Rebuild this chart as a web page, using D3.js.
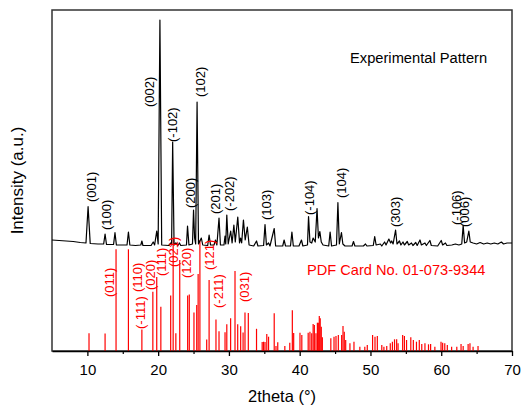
<!DOCTYPE html>
<html>
<head>
<meta charset="utf-8">
<script src="https://cdn.jsdelivr.net/npm/d3@7"></script>
<style>
  body { margin: 0; background: #fff; }
  text { font-family: "Liberation Sans", Arial, sans-serif; }
</style>
</head>
<body>
<div id="chart"></div>
<script>
// experimental XRD pattern, [2theta, intensity]
var expPattern = [
  [5.0,111],[6.0,110.5],[7.0,110],[8.0,109.5],[9.0,108.5],[9.8,108],
  [10.1,144.3],[10.4,107.5],[11.5,107],[12.3,107],[12.5,117],[12.7,106.5],
  [13.7,106.5],[13.9,118.3],[14.1,106],[15.6,106],[15.8,119],[16.0,106],
  [16.8,105.5],[17.55,106],[17.7,110],[17.85,105.5],[19.0,105.5],[19.3,109],
  [19.5,106],[19.8,120],[20.0,107],[20.25,331],[20.5,106],[21.5,105.5],
  [21.8,108],[21.9,106],[22.05,209],[22.25,106],[22.5,108],[22.8,105.5],
  [23.0,108],[23.2,105.5],[24.0,106],[24.15,125],[24.35,106],[24.85,107],
  [25.0,141],[25.15,113],[25.3,107],[25.5,249],[25.7,107],[26.1,113],
  [26.3,106],[27.0,105.5],[27.2,116],[27.4,106],[27.9,106],[28.1,111],
  [28.3,106],[28.6,133],[28.8,106],[29.3,106],[29.45,115],[29.55,107],
  [29.7,136],[29.9,107],[30.25,120],[30.45,108],[30.7,126],[30.9,109],
  [31.25,134],[31.5,108],[31.65,113],[31.8,108],[32.05,131],[32.3,111],
  [32.6,124],[32.85,106],[33.5,105],[33.9,110],[34.1,105],[34.9,105.5],
  [35.1,126.5],[35.3,106],[35.6,108],[35.8,105],[36.4,122.5],[36.6,105],
  [37.6,105],[37.8,111],[38.0,105],[38.7,105],[38.9,119],[39.1,105],
  [39.9,105],[40.25,111],[40.45,105],[41.1,106],[41.25,134.5],[41.45,109],
  [41.7,108],[41.9,113],[42.2,109],[42.45,142.5],[42.65,113],[42.85,119.5],
  [43.05,109],[43.3,106],[44.1,105],[44.3,119],[44.5,105],[45.2,106],
  [45.4,148.3],[45.6,107],[45.9,118.5],[46.1,107],[46.4,105],[47.4,105],
  [47.6,109.5],[47.8,105],[49.0,105],[49.3,107],[49.5,105],[50.4,105.5],
  [50.6,114.5],[50.8,106],[51.4,107],[51.6,105],[52.0,109],[52.2,106],
  [52.6,112],[52.85,108],[53.0,110],[53.2,107],[53.55,121],[53.75,107],
  [54.1,110],[54.3,106],[54.6,109],[54.8,106],[55.2,109.5],[55.4,106],
  [55.8,108],[56.0,105.5],[56.4,108.5],[56.6,105.5],[57.0,111],[57.2,106],
  [57.7,108],[57.9,105.5],[58.4,110.5],[58.6,105.5],[59.5,105],[60.0,110.5],
  [60.2,106],[60.6,108],[60.8,105.5],[61.5,106],[62.0,107],[62.5,106],
  [62.9,107],[63.1,125.5],[63.3,108],[63.6,109],[63.9,120],[64.1,109],
  [64.5,108],[65.0,107],[65.5,108.5],[66.0,107],[66.5,108],[67.0,107],
  [67.5,108],[68.0,107],[68.5,109],[68.8,107],[69.3,108],[70.0,108]
];

// reference card lines, [2theta, intensity]
var cardLines = [
  [10.23,17.7],[12.5,17.5],[14.05,101.7],[15.8,101.7],[17.7,21.5],
  [19.25,59.3],[19.8,74],[20.38,44.3],[21.77,55.5],[22.12,113],
  [22.5,17.7],[23.05,91],[24.17,55.5],[24.4,56.5],[25.06,38.5],
  [25.45,46],[25.65,77],[25.9,111],[26.86,11.5],[27.2,71],
  [28.17,31.5],[28.6,19.7],[29.45,18.7],[29.7,26.8],[30.24,32.7],
  [30.86,80],[31.24,26.8],[31.66,24.7],[32.0,18.5],[32.27,38.5],
  [32.74,38],[33.9,22.2],[34.7,9],[34.9,9.3],[35.1,9],[35.35,17],
  [35.6,14.3],[36.4,37.7],[36.65,5],[36.9,8.7],[37.9,5],[38.6,8.3],
  [38.96,40.7],[39.15,18],[40.04,18.3],[40.3,16],[41.2,18.3],[41.45,19.3],
  [41.7,17.7],[41.9,27],[42.07,26],[42.3,17.7],[42.5,28.3],[42.63,28.3],
  [42.77,35],[42.9,32.7],[43.05,24.3],[43.2,13.7],[44.4,12.7],[44.85,14.3],
  [45.13,15],[45.46,16],[45.93,16],[46.12,25],[46.3,19.3],[46.5,11],
  [47.1,7.7],[47.67,9.3],[48.5,4.3],[49.2,4.3],[49.55,6],[50.3,16],
  [50.64,14.3],[50.97,15],[51.6,6],[51.9,4.3],[52.3,5],[52.8,7.7],
  [53.1,9.3],[53.4,11.7],[53.7,11.7],[53.9,7.7],[54.55,16],[54.8,15],
  [55.1,11],[55.7,13.7],[56.06,11],[56.5,9.3],[56.9,11],[57.25,7],
  [57.7,7.7],[58.2,6.7],[58.5,7],[59.1,4.3],[59.97,9.3],[60.2,8.3],
  [60.5,7.7],[60.86,6],[61.47,4.3],[62.2,4.3],[62.8,7],[63.1,5],
  [63.8,7],[64.06,7.7],[64.5,4.3],[65.2,5]
];

// peak labels: [hkl, 2theta, intensity at label foot]
var expLabels = [
  ["(001)",10.51,149],["(100)",12.70,121],["(002)",18.71,244],["(-102)",22.03,209],
  ["(200)",24.57,143],["(102)",25.91,254],["(201)",28.10,137],["(-202)",30.08,140],
  ["(103)",35.24,131],["(-104)",41.41,136],["(104)",45.84,153],["(303)",53.54,124],
  ["(-106)",62.09,126],["(006)",63.22,124]
];
var cardLabels = [
  ["(011)",13.05,54],["(-111)",17.5,22],["(110)",17.01,59],["(020)",18.85,61],
  ["(111)",20.4,75],["(021)",22.1,84],["(120)",23.93,73],["(121)",27.18,81],
  ["(-211)",28.46,43],["(031)",32.13,49]
];

var majorTicks = [10, 20, 30, 40, 50, 60, 70];
var minorTicks = [15, 25, 35, 45, 55, 65];

var width = 522, height = 408;
var margin = { top: 10, right: 10, bottom: 57, left: 52 };

var svg = d3.select("#chart").append("svg")
    .attr("width", width)
    .attr("height", height);

var x = d3.scaleLinear().domain([5, 70]).range([margin.left, width - margin.right]);
var y = d3.scaleLinear().domain([0, 341]).range([height - margin.bottom, margin.top]);

// frame
svg.append("rect")
    .attr("x", x(5))
    .attr("y", y(341))
    .attr("width", x(70) - x(5))
    .attr("height", y(0) - y(341))
    .attr("fill", "none")
    .attr("stroke", "#333")
    .attr("stroke-width", 1.5);

// card lines
svg.append("g")
    .selectAll("line")
    .data(cardLines)
    .join("line")
    .attr("x1", d => x(d[0]))
    .attr("x2", d => x(d[0]))
    .attr("y1", y(0))
    .attr("y2", d => y(d[1]))
    .attr("stroke", "#f00")
    .attr("stroke-width", 1.2);

// experimental curve
var line = d3.line().x(d => x(d[0])).y(d => y(d[1]));
svg.append("path")
    .datum(expPattern)
    .attr("d", line)
    .attr("fill", "none")
    .attr("stroke", "#000")
    .attr("stroke-width", 1.2)
    .attr("stroke-linejoin", "round");

// rotated hkl labels
function addLabels(data, color) {
  svg.append("g")
      .selectAll("text")
      .data(data)
      .join("text")
      .attr("transform", d => `translate(${x(d[1])},${y(d[2])})rotate(-90)`)
      .attr("dy", "0.35em")
      .attr("font-size", 13)
      .attr("fill", color)
      .text(d => d[0]);
}
addLabels(expLabels, "#000");
addLabels(cardLabels, "#f00");

svg.append("text")
    .attr("x", 350)
    .attr("y", 63)
    .attr("font-size", 14.7)
    .attr("fill", "#000")
    .text("Experimental Pattern");

svg.append("text")
    .attr("x", 307)
    .attr("y", 275)
    .attr("font-size", 14.6)
    .attr("fill", "#f00")
    .text("PDF Card No. 01-073-9344");

// x axis
var xAxis = svg.append("g")
    .attr("transform", `translate(0,${y(0)})`)
    .call(d3.axisBottom(x).tickValues(majorTicks).tickSize(5).tickSizeOuter(0).tickPadding(8));
xAxis.select(".domain").attr("stroke", "#000").attr("stroke-width", 1.5);
xAxis.selectAll(".tick line").attr("stroke", "#000").attr("stroke-width", 1.3);
xAxis.selectAll(".tick text")
    .attr("font-size", 15)
    .attr("font-family", "Liberation Sans, Arial, sans-serif")
    .attr("fill", "#000");

svg.append("g")
    .attr("transform", `translate(0,${y(0)})`)
    .call(d3.axisBottom(x).tickValues(minorTicks).tickSize(3).tickFormat(""))
    .call(g => g.select(".domain").remove())
    .selectAll(".tick line").attr("stroke", "#000").attr("stroke-width", 1.2);

svg.append("text")
    .attr("x", (x(5) + x(70)) / 2)
    .attr("y", 402)
    .attr("text-anchor", "middle")
    .attr("font-size", 16.5)
    .text("2theta (\u00b0)");

svg.append("text")
    .attr("transform", `translate(23,${(y(0) + y(341)) / 2})rotate(-90)`)
    .attr("text-anchor", "middle")
    .attr("font-size", 17)
    .text("Intensity (a.u.)");
</script>
</body>
</html>
